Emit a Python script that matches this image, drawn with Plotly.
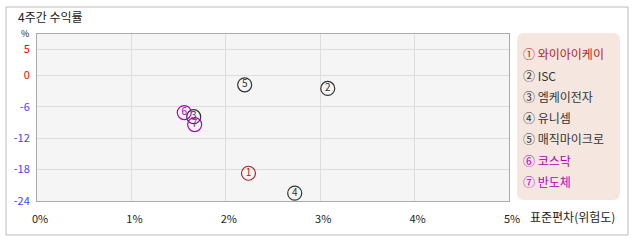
import plotly.graph_objects as go

names = ["와이아이케이", "ISC", "엠케이전자", "유니셈", "매직마이크로", "코스닥", "반도체"]
labels = ["1", "2", "3", "4", "5", "6", "7"]
circled = ["①", "②", "③", "④", "⑤", "⑥", "⑦"]
risk = [2.24, 3.08, 1.66, 2.73, 2.20, 1.56, 1.67]
ret = [-18.7, -2.5, -7.9, -22.5, -1.8, -7.1, -9.4]
colors = ["#b22222", "#333333", "#333333", "#333333", "#333333", "#b000c0", "#b000c0"]

y_ticks = [5, 0, -6, -12, -18, -24]
x_ticks = [0, 1, 2, 3, 4, 5]
x_ticktext = ["0%", "1%", "2%", "3%", "4%", "5%"]

W, H = 638, 242
L, R, T, B = 37, 509, 34, 201
PW, PH = R - L, B - T
FONT = "Noto Sans CJK KR"

def px(x):
    return (x - L) / PW

def py(y):
    return (B - y) / PH

fig = go.Figure()
for i in range(len(names)):
    fig.add_trace(go.Scatter(
        x=[risk[i]], y=[ret[i]], mode="markers+text",
        text=[labels[i]], textposition="middle center",
        textfont=dict(family=FONT, size=10, color=colors[i]),
        marker=dict(symbol="circle-open", size=14, color=colors[i],
                    line=dict(width=1.2, color=colors[i])),
        showlegend=False, hoverinfo="skip", cliponaxis=False))

tick_colors = ["#ff0000" if v >= 0 else "#4444ff" for v in y_ticks]

shapes = []
shapes.append(dict(type="rect", xref="paper", yref="paper",
                   x0=px(6), x1=px(628), y0=py(235), y1=py(7),
                   line=dict(color="#bbbbbb", width=1), fillcolor="rgba(0,0,0,0)", layer="below"))
lx0, lx1, ly0, ly1, r = 517, 620, 33, 200, 7
def P(x, y):
    return f"{px(x):.5f},{py(y):.5f}"
path = (f"M {P(lx0+r, ly0)} L {P(lx1-r, ly0)} Q {P(lx1, ly0)} {P(lx1, ly0+r)} "
        f"L {P(lx1, ly1-r)} Q {P(lx1, ly1)} {P(lx1-r, ly1)} L {P(lx0+r, ly1)} "
        f"Q {P(lx0, ly1)} {P(lx0, ly1-r)} L {P(lx0, ly0+r)} Q {P(lx0, ly0)} {P(lx0+r, ly0)} Z")
shapes.append(dict(type="path", xref="paper", yref="paper", path=path,
                   fillcolor="#f5e7e0", line=dict(width=0), layer="below"))

annotations = []
annotations.append(dict(text="4주간 수익률", x=px(16), y=py(17), xref="paper", yref="paper",
                        xanchor="left", yanchor="middle", showarrow=False,
                        font=dict(family=FONT, size=12, color="#222222")))
annotations.append(dict(text="%", x=px(25), y=py(33), xref="paper", yref="paper",
                        xanchor="center", yanchor="middle", showarrow=False,
                        font=dict(family=FONT, size=9, color="#222222")))
annotations.append(dict(text="표준편차(위험도)", x=px(528), y=py(216), xref="paper", yref="paper",
                        xanchor="left", yanchor="middle", showarrow=False,
                        font=dict(family=FONT, size=12, color="#222222")))
for i in range(len(names)):
    annotations.append(dict(text=f"{circled[i]} {names[i]}", x=px(521), y=py(54 + i * 21.2),
                            xref="paper", yref="paper", xanchor="left", yanchor="middle",
                            showarrow=False,
                            font=dict(family=FONT, size=12, color=colors[i])))

fig.update_layout(
    width=W, height=H,
    margin=dict(l=L, r=W - R, t=T, b=H - B, pad=0),
    paper_bgcolor="white", plot_bgcolor="#f5f5f5",
    font=dict(family=FONT, size=11, color="#222222"),
    xaxis=dict(range=[0, 5], tickvals=x_ticks, ticktext=x_ticktext,
               showgrid=True, gridcolor="#dddddd", gridwidth=1, zeroline=False,
               showline=True, linecolor="#aaaaaa", mirror=True, ticks="",
               tickfont=dict(family=FONT, size=11, color="#222222"),
               ticklabelstandoff=8, ticklabelshift=3),
    yaxis=dict(range=[-24, 7.9], tickvals=y_ticks,
               ticktext=[f"<span style='color:{c}'>{v}</span>" for v, c in zip(y_ticks, tick_colors)],
               showgrid=True, gridcolor="#dddddd", gridwidth=1, zeroline=False,
               showline=True, linecolor="#aaaaaa", mirror=True, ticks="",
               tickfont=dict(family=FONT, size=11), ticklabelstandoff=4),
    shapes=shapes, annotations=annotations,
)

fig.write_html("out.html")
